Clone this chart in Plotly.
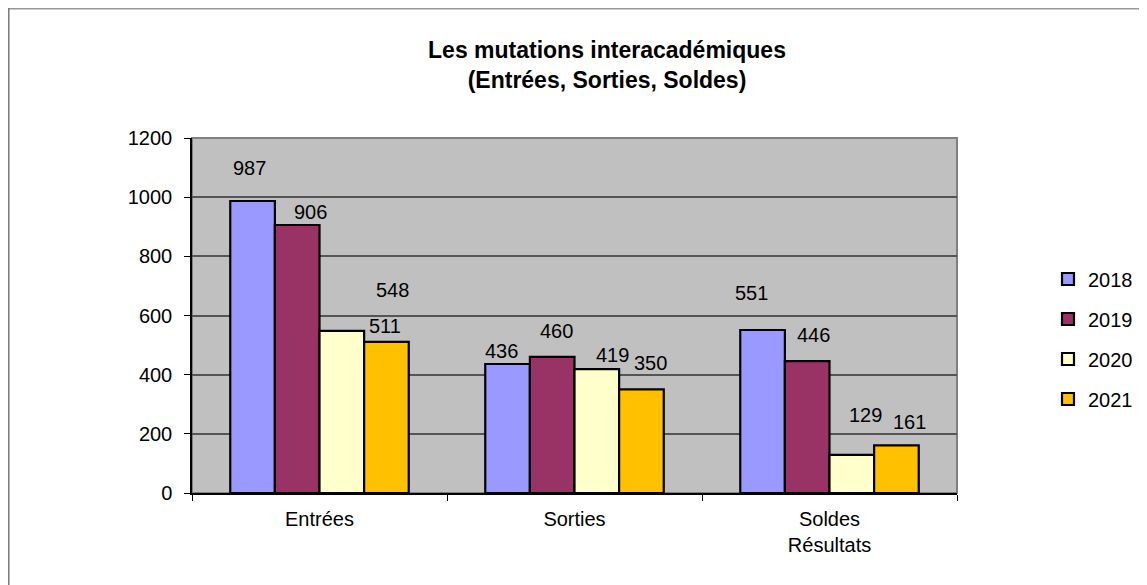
import plotly.graph_objects as go

categories = ["Entrées", "Sorties", "Soldes<br>Résultats"]
years = ["2018", "2019", "2020", "2021"]
v2018 = [987, 436, 551]
v2019 = [906, 460, 446]
v2020 = [548, 419, 129]
v2021 = [511, 350, 161]
series = [v2018, v2019, v2020, v2021]
colors = ["#9999FF", "#993366", "#FFFFCC", "#FFC000"]

# label placement tweaks (pixels) mimicking the original layout
label_dx = [[-3, -6, -11], [13, 4, 6], [51, 16, 14], [-1, 9, 13]]
label_dy = [[33, 13, 37], [13, 26, 26], [41, 14, 40], [16, 26, 23]]

FONT = "Liberation Sans, Arial, sans-serif"
PAGE = 8  # body margin offset of the html page
W, H = 1147, 585
L = 192 - PAGE
T = 138 - PAGE
R = W - (957 - PAGE)
B = H - (493 - PAGE)
plot_w = W - L - R
plot_h = H - T - B

fig = go.Figure()
for i, (yr, vals) in enumerate(zip(years, series)):
    fig.add_trace(go.Bar(
        x=categories, y=vals, name=yr,
        marker=dict(color=colors[i], line=dict(color="black", width=2.2)),
        legendgroup=yr,
    ))

cat_w = plot_w / len(categories)
bargap = 0.3
bar_w = cat_w * (1 - bargap) / len(years)

annotations = []
for i, vals in enumerate(series):
    off = (i - (len(years) - 1) / 2) * bar_w
    for j, v in enumerate(vals):
        annotations.append(dict(
            x=categories[j], y=v, xref="x", yref="y", text=str(v),
            showarrow=False, xshift=off + label_dx[i][j], yshift=label_dy[i][j],
            yanchor="middle", xanchor="center",
            font=dict(family=FONT, size=20, color="black"),
        ))

shapes = [
    dict(type="rect", xref="x domain", yref="y domain", x0=0, x1=1, y0=0, y1=1,
         line=dict(color="#808080", width=2), layer="below"),
    dict(type="line", xref="paper", yref="paper",
         x0=(0.5 - L) / plot_w, x1=(W + 20 - L) / plot_w,
         y0=(H - B - 0.5) / plot_h, y1=(H - B - 0.5) / plot_h,
         line=dict(color="#999999", width=2)),
    dict(type="line", xref="paper", yref="paper",
         x0=(0.8 - L) / plot_w, x1=(0.8 - L) / plot_w,
         y0=-B / plot_h - 0.1, y1=(H - B) / plot_h,
         line=dict(color="#777777", width=1.5)),
]

fig.update_layout(
    width=W, height=H,
    margin=dict(l=L, r=R, t=T, b=B),
    paper_bgcolor="white",
    plot_bgcolor="#C0C0C0",
    barmode="group", bargap=bargap, bargroupgap=0,
    font=dict(family=FONT, size=20, color="black"),
    title=dict(
        text="<b>Les mutations interacadémiques<br>(Entrées, Sorties, Soldes)</b>",
        x=(607 - PAGE) / W, xanchor="center", y=1 - (58 - PAGE) / H, yanchor="middle",
        font=dict(family=FONT, size=23, color="black"),
    ),
    legend=dict(
        x=(1048 - PAGE - L) / plot_w, xanchor="left",
        y=(H - B - (339 - PAGE)) / plot_h, yanchor="middle",
        font=dict(family=FONT, size=20, color="black"),
        tracegroupgap=11, itemwidth=30, bgcolor="rgba(0,0,0,0)",
        traceorder="grouped",
    ),
    xaxis=dict(
        showline=True, linecolor="black", linewidth=1.5,
        ticks="outside", tickson="boundaries", ticklen=6, tickcolor="black",
        showgrid=False, tickfont=dict(size=20), ticklabelstandoff=7,
    ),
    yaxis=dict(
        range=[0, 1200], dtick=200,
        showline=True, linecolor="black", linewidth=1.5,
        ticks="outside", ticklen=6, tickcolor="black",
        showgrid=True, gridcolor="#555555", gridwidth=1.5,
        tickfont=dict(size=20), zeroline=False, ticklabelstandoff=8,
    ),
    annotations=annotations,
    shapes=shapes,
)

fig.write_html("out.html")
